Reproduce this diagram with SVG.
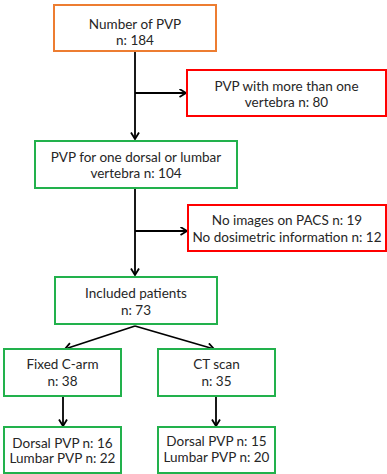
<svg xmlns="http://www.w3.org/2000/svg" width="387" height="474" viewBox="0 0 387 474">
<defs>
<marker id="ah" markerUnits="userSpaceOnUse" markerWidth="10" markerHeight="10" refX="7.5" refY="4.5" orient="auto">
<path d="M1,0.5 L7.5,4.5 L1,8.5" fill="none" stroke="#000" stroke-width="1.8"/>
</marker>
<style>
rect{fill:#fff;stroke-width:2}
.o{stroke:#ED7D31}
.r{stroke:#FF0000}
.g{stroke:#22B14C}
text{font-family:Lato,"Open Sans","Liberation Sans",sans-serif;font-size:13.5px;fill:#262626;text-anchor:middle}
.c line,.c path{stroke:#000;stroke-width:1.8;fill:none}
</style>
</defs>
<rect width="387" height="474" fill="#fff" style="stroke:none"/>
<g class="c" id="connectors">
<line x1="135" y1="52" x2="135" y2="139" marker-end="url(#ah)"/>
<line x1="135" y1="93" x2="186" y2="93" marker-end="url(#ah)"/>
<line x1="135" y1="189" x2="135" y2="275" marker-end="url(#ah)"/>
<line x1="135" y1="231" x2="187" y2="231" marker-end="url(#ah)"/>
<line x1="135" y1="326" x2="65" y2="349" marker-end="url(#ah)"/>
<line x1="135" y1="326" x2="214" y2="349" marker-end="url(#ah)"/>
<line x1="63" y1="397" x2="63" y2="426" marker-end="url(#ah)"/>
<line x1="216" y1="397" x2="216" y2="426" marker-end="url(#ah)"/>
</g>
<g id="n1"><rect class="o" x="54" y="5" width="162" height="46"/><text x="135" y="29">Number of PVP</text><text x="135" y="45">n: 184</text></g>
<g id="n2"><rect class="r" x="187" y="70" width="199" height="46"/><text x="286.5" y="91">PVP with more than one</text><text x="286.5" y="107">vertebra n: 80</text></g>
<g id="n3"><rect class="g" x="35" y="141" width="202" height="47"/><text x="136" y="162">PVP for one dorsal or lumbar</text><text x="136" y="178">vertebra n: 104</text></g>
<g id="n4"><rect class="r" x="188" y="205" width="198" height="46"/><text x="287" y="225">No images on PACS n: 19</text><text x="287" y="242">No dosimetric information n: 12</text></g>
<g id="n5"><rect class="g" x="55" y="277" width="162" height="47"/><text x="136" y="298">Included patients</text><text x="136" y="315">n: 73</text></g>
<g id="n6"><rect class="g" x="4" y="349" width="117" height="47"/><text x="62.5" y="369">Fixed C-arm</text><text x="62.5" y="386">n: 38</text></g>
<g id="n7"><rect class="g" x="158" y="349" width="117" height="47"/><text x="216.5" y="369">CT scan</text><text x="216.5" y="386">n: 35</text></g>
<g id="n8"><rect class="g" x="4" y="427" width="117" height="46"/><text x="62.5" y="448">Dorsal PVP n: 16</text><text x="62.5" y="463">Lumbar PVP n: 22</text></g>
<g id="n9"><rect class="g" x="158" y="427" width="117" height="46"/><text x="216.5" y="446">Dorsal PVP n: 15</text><text x="216.5" y="462">Lumbar PVP n: 20</text></g>
</svg>
